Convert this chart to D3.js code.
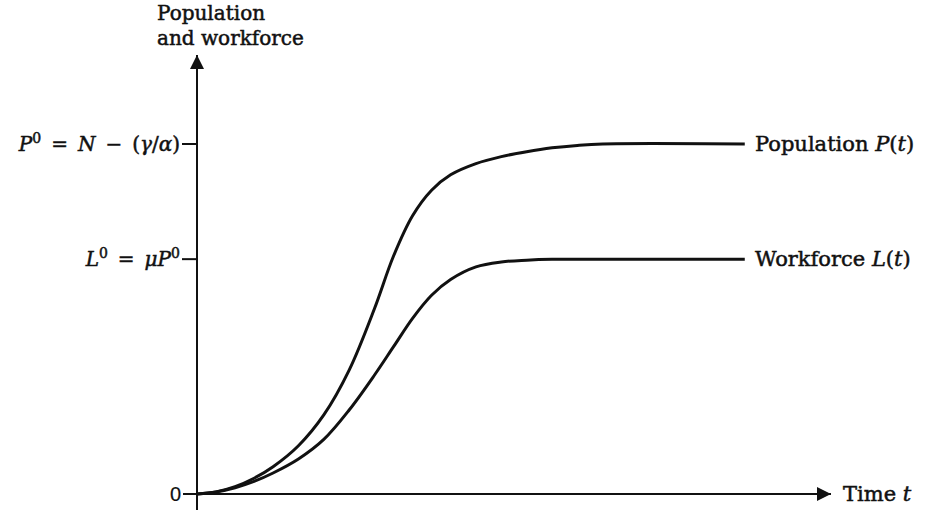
<!DOCTYPE html>
<html>
<head>
<meta charset="utf-8">
<script src="https://cdn.jsdelivr.net/npm/d3@7"></script>
<style>
  html, body { margin: 0; padding: 0; background: #fff; }
  svg { display: block; }
  text { font-family: "DejaVu Serif", "Liberation Serif", serif; fill: #111; stroke: #111; stroke-width: 0.5px; }
</style>
</head>
<body>
<script>
// Time axis runs 0..100 (arbitrary units); levels are shares of the steady-state population P0.
const timeDomain = [0, 100];
const levelDomain = [0, 1];

// Sample times shared by both series
const timeT = [0, 3, 6, 9, 12, 16, 20, 24, 28, 31, 34, 37, 40, 44, 48, 52, 56, 60, 64, 86.4];

// Population P(t): S-shaped rise to the plateau P0
const popV = [0, 0.006, 0.021, 0.045, 0.078, 0.138, 0.226, 0.354, 0.53, 0.68, 0.795, 0.868, 0.912, 0.944, 0.964, 0.978, 0.989, 0.996, 1.0, 1.0];

// Workforce L(t): rises to the lower plateau L0 = mu * P0
const wfV = [0, 0.006, 0.018, 0.036, 0.06, 0.10, 0.156, 0.24, 0.34, 0.421, 0.502, 0.568, 0.613, 0.649, 0.663, 0.668, 0.6705, 0.671, 0.671, 0.671];

// Marked levels on the vertical axis: 0, L0, P0
const levelTicks = [0, 0.671, 1.0];

const W = 926, H = 514;
const svg = d3.select("body").append("svg").attr("width", W).attr("height", H);

const x = d3.scaleLinear().domain(timeDomain).range([197, 831]);
const y = d3.scaleLinear().domain(levelDomain).range([494, 144]);

// arrow heads
const defs = svg.append("defs");
defs.append("marker")
  .attr("id", "arrow")
  .attr("viewBox", "0 0 10 10")
  .attr("refX", 10).attr("refY", 5)
  .attr("markerWidth", 14).attr("markerHeight", 16)
  .attr("markerUnits", "userSpaceOnUse")
  .attr("orient", "auto")
  .append("path").attr("d", "M0,0 L10,5 L0,10 Z").attr("fill", "#111");

const axisColor = "#111";

// horizontal axis (time)
svg.append("line")
  .attr("x1", x(0) - 14).attr("y1", y(0))
  .attr("x2", x(100)).attr("y2", y(0))
  .attr("stroke", axisColor).attr("stroke-width", 2)
  .attr("marker-end", "url(#arrow)");

// vertical axis (population and workforce)
svg.append("line")
  .attr("x1", x(0)).attr("y1", y(0) + 16)
  .attr("x2", x(0)).attr("y2", 55)
  .attr("stroke", axisColor).attr("stroke-width", 2)
  .attr("marker-end", "url(#arrow)");

// level ticks
svg.selectAll("line.tick").data(levelTicks.slice(1)).enter().append("line")
  .attr("class", "tick")
  .attr("x1", x(0) - 15).attr("x2", x(0))
  .attr("y1", d => y(d)).attr("y2", d => y(d))
  .attr("stroke", axisColor).attr("stroke-width", 2);

const line = d3.line().x(d => x(d[0])).y(d => y(d[1])).curve(d3.curveCatmullRom.alpha(0.5));

svg.append("path")
  .datum(d3.zip(timeT, popV))
  .attr("d", line)
  .attr("fill", "none").attr("stroke", "#111").attr("stroke-width", 3);

svg.append("path")
  .datum(d3.zip(timeT, wfV))
  .attr("d", line)
  .attr("fill", "none").attr("stroke", "#111").attr("stroke-width", 3);

const fs = 20;

// axis title
svg.append("text").attr("x", 157).attr("y", 20).attr("font-size", fs).text("Population");
svg.append("text").attr("x", 157).attr("y", 45).attr("font-size", fs).text("and workforce");

// helper to write a label made of styled pieces
function label(xp, yp, anchor, parts, size) {
  const t = svg.append("text").attr("x", xp).attr("y", yp).attr("text-anchor", anchor)
    .attr("font-size", size || fs);
  parts.forEach(p => {
    const s = t.append("tspan").text(p.s);
    if (p.i) s.attr("font-style", "italic");
    if (p.sup) s.attr("baseline-shift", "super").attr("font-size", (size || fs) * 0.7);
  });
  return t;
}

const sp = "\u2002"; // en space around operators

// level labels
label(180, y(1) + 7, "end", [
  { s: "P", i: true }, { s: "0", sup: true }, { s: sp + "=" + sp }, { s: "N", i: true },
  { s: sp + "−" + sp + "(" }, { s: "γ", i: true }, { s: "/" }, { s: "α", i: true }, { s: ")" }
]);
label(180, y(levelTicks[1]) + 7, "end", [
  { s: "L", i: true }, { s: "0", sup: true }, { s: sp + "=" + sp }, { s: "μP", i: true }, { s: "0", sup: true }
]);
label(181, y(0) + 7, "end", [{ s: "0" }])
  .style("font-family", "'Liberation Sans', Arial, sans-serif").style("stroke-width", "0.2px");

// series labels
label(755, y(1) + 7, "start", [{ s: "Population " }, { s: "P", i: true }, { s: "(" }, { s: "t", i: true }, { s: ")" }], 21);
label(755, y(levelTicks[1]) + 7, "start", [{ s: "Workforce " }, { s: "L", i: true }, { s: "(" }, { s: "t", i: true }, { s: ")" }], 21);
label(843, y(0) + 7, "start", [{ s: "Time " }, { s: "t", i: true }], 21);
</script>
</body>
</html>
